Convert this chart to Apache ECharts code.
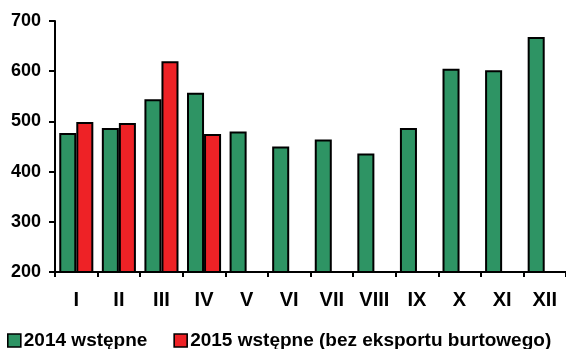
<!DOCTYPE html>
<html>
<head>
<meta charset="utf-8">
<script src="https://cdn.jsdelivr.net/npm/echarts@6/dist/echarts.min.js"></script>
<style>
  html, body { margin: 0; padding: 0; background: #fff; }
  #chart { width: 566px; height: 349px; }
</style>
</head>
<body>
<div id="chart"></div>
<script>
// Monthly values, 2014 preliminary vs 2015 preliminary (excluding border export)
var months = ['I', 'II', 'III', 'IV', 'V', 'VI', 'VII', 'VIII', 'IX', 'X', 'XI', 'XII'];
var values2014 = [477, 487, 544, 557, 480, 450, 464, 436, 487, 605, 602, 668];
var values2015 = [499, 497, 620, 475, null, null, null, null, null, null, null, null];
var seriesNames = ['2014 wstępne', '2015 wstępne (bez eksportu burtowego)'];

var FONT = '"Liberation Sans", Arial, sans-serif';
var chart = echarts.init(document.getElementById('chart'), null, { renderer: 'canvas' });

chart.setOption({
  animation: false,
  backgroundColor: '#ffffff',
  textStyle: { fontFamily: FONT },
  grid: { left: 55, right: 0, top: 21, bottom: 77, containLabel: false },
  legend: {
    left: 7,
    top: 331,
    padding: 0,
    itemWidth: 13,
    itemHeight: 13,
    itemGap: 26,
    icon: 'rect',
    itemStyle: { borderColor: '#000', borderWidth: 1.6 },
    textStyle: { fontFamily: FONT, fontWeight: 'bold', fontSize: 19, color: '#000', padding: [0, 0, 0, -2] },
    data: seriesNames
  },
  xAxis: {
    type: 'category',
    data: months,
    axisLine: { lineStyle: { color: '#000', width: 2 } },
    axisTick: { show: true, length: 5, alignWithLabel: false, lineStyle: { color: '#000', width: 2 } },
    axisLabel: { fontFamily: FONT, fontWeight: 'bold', fontSize: 20, color: '#000', margin: 18 }
  },
  yAxis: {
    type: 'value',
    min: 200,
    max: 700,
    interval: 100,
    splitLine: { show: false },
    axisLine: { show: true, lineStyle: { color: '#000', width: 2 } },
    axisTick: { show: true, length: 6, lineStyle: { color: '#000', width: 2 } },
    axisLabel: { fontFamily: FONT, fontWeight: 'bold', fontSize: 18, color: '#000', margin: 14 }
  },
  series: [
    {
      name: seriesNames[0],
      type: 'bar',
      data: values2014,
      barGap: '0%',
      barCategoryGap: '20%',
      itemStyle: { color: '#2e9464', borderColor: '#000', borderWidth: 2 }
    },
    {
      name: seriesNames[1],
      type: 'bar',
      data: values2015,
      barGap: '0%',
      barCategoryGap: '20%',
      itemStyle: { color: '#ee2226', borderColor: '#000', borderWidth: 2 }
    }
  ]
});
</script>
</body>
</html>
